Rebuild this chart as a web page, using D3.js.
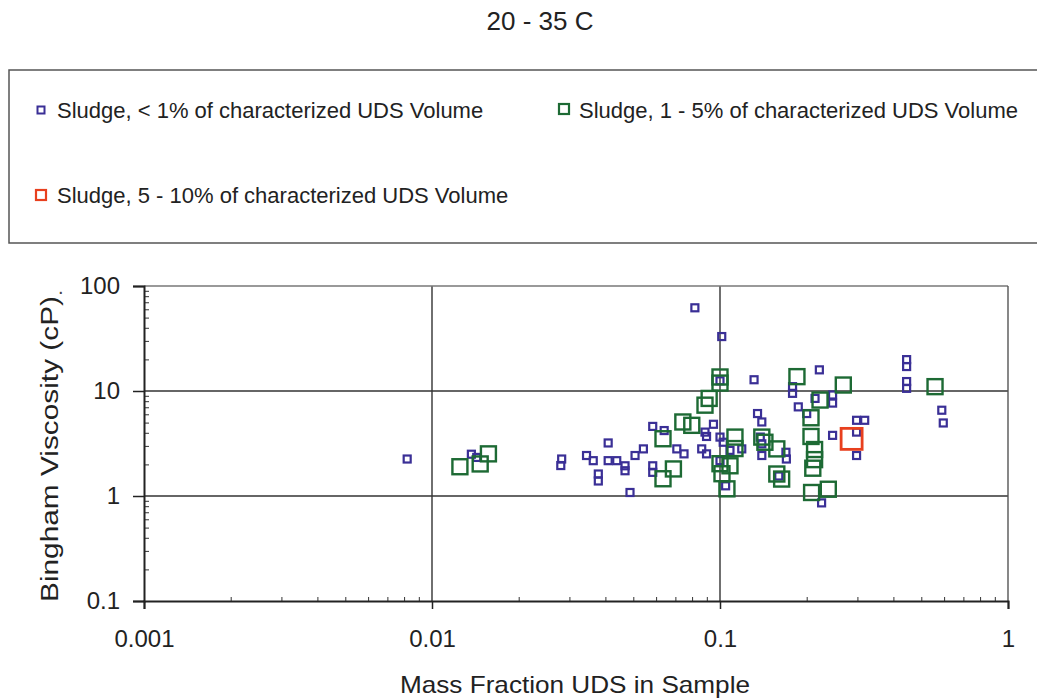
<!DOCTYPE html>
<html>
<head>
<meta charset="utf-8">
<script src="https://cdn.jsdelivr.net/npm/d3@7"></script>
<style>
  html, body { margin: 0; padding: 0; background: #fff; }
  svg { display: block; font-family: "Liberation Sans", Arial, sans-serif; }
</style>
</head>
<body>
<svg id="chart" width="1037" height="700"></svg>
<script>
// ---- data ----
const chartTitle = "20 - 35 C";
const xTitle = "Mass Fraction UDS in Sample";
const yTitle = "Bingham Viscosity (cP)";
const seriesNames = [
  "Sludge, < 1% of characterized UDS Volume",
  "Sludge, 1 - 5% of characterized UDS Volume",
  "Sludge, 5 - 10% of characterized UDS Volume"
];
const xTickValues = [0.001, 0.01, 0.1, 1];
const xTickLabels = ["0.001", "0.01", "0.1", "1"];
const yTickValues = [0.1, 1, 10, 100];
const yTickLabels = ["0.1", "1", "10", "100"];

// Sludge, < 1%  (mass fraction, viscosity cP)
const lowX = [0.0082,0.0137,0.0143,0.0282,0.0280,0.0344,0.0363,0.0378,0.0378,0.0409,0.0409,0.0438,0.0468,0.0468,0.0487,0.0507,0.0542,0.0584,0.0584,0.0584,0.0640,0.0708,0.0750,0.0818,0.0864,0.0898,0.0887,0.0898,0.0949,0.1014,0.1000,0.1026,0.1000,0.1046,0.1083,0.1190,0.1313,0.1350,0.1397,0.1380,0.1397,0.1397,0.1600,0.1694,0.1700,0.1786,0.1786,0.1870,0.2000,0.2138,0.2213,0.2460,0.2460,0.2460,0.2253,0.2980,0.3180,0.2980,0.2980,0.4446,0.4446,0.4446,0.4446,0.5890,0.5960,0.1000];
const lowY = [2.25,2.50,2.33,2.25,1.95,2.43,2.17,1.62,1.39,3.20,2.17,2.17,1.94,1.74,1.08,2.43,2.81,4.60,1.94,1.68,4.20,2.81,2.52,62.0,2.81,2.52,4.06,3.69,4.82,33.0,3.64,3.25,2.17,1.25,2.72,2.81,12.8,6.10,5.07,3.64,3.14,2.43,1.55,2.61,2.25,11.0,9.50,7.06,6.10,8.50,15.9,9.16,7.67,3.78,0.86,5.26,5.26,4.06,2.43,19.9,17.1,12.3,10.6,6.56,4.96,12.5];

// Sludge, 1 - 5%
const midX = [0.0125,0.0147,0.0157,0.0634,0.0689,0.0634,0.0743,0.0798,0.0887,0.0917,0.1000,0.1000,0.1000,0.1083,0.1016,0.1057,0.1127,0.1127,0.1397,0.1432,0.1575,0.1575,0.1637,0.1850,0.2225,0.2680,0.2070,0.2070,0.2130,0.2130,0.2100,0.2080,0.2377,0.5580];
const midY = [1.90,2.02,2.52,1.46,1.81,3.51,5.07,4.71,7.33,8.50,13.6,11.9,2.03,1.94,1.63,1.17,3.64,2.83,3.64,3.25,2.81,1.62,1.45,13.7,8.20,11.4,5.56,3.69,2.77,2.22,1.84,1.08,1.16,11.0];

// Sludge, 5 - 10%
const highX = [0.2864];
const highY = [3.50];

// ---- drawing ----
const svg = d3.select("#chart");
const x = d3.scaleLog().domain([0.001, 1]).range([144, 1008]);
const y = d3.scaleLog().domain([0.1, 100]).range([601, 286]);

const styles = [
  { stroke: "#3a2f96", size: 7,  sw: 2.2, legSize: 7 },
  { stroke: "#1d6a34", size: 15, sw: 2.4, legSize: 10 },
  { stroke: "#e8401e", size: 21, sw: 2.8, legSize: 10 }
];

// title
svg.append("text").attr("x", 540).attr("y", 30).attr("text-anchor", "middle")
  .attr("font-size", 25).attr("textLength", 107).attr("lengthAdjust", "spacingAndGlyphs")
  .attr("fill", "#222").text(chartTitle);

// legend box
svg.append("rect").attr("x", 9).attr("y", 70).attr("width", 1040).attr("height", 173)
  .attr("fill", "#fff").attr("stroke", "#555").attr("stroke-width", 1.5);

const legendPos = [
  { mx: 41, my: 110, tx: 57, ty: 118 },
  { mx: 564, my: 109, tx: 579, ty: 118 },
  { mx: 41, my: 195, tx: 57, ty: 203 }
];
seriesNames.forEach((name, i) => {
  const p = legendPos[i], s = styles[i];
  svg.append("rect").attr("x", p.mx - s.legSize / 2).attr("y", p.my - s.legSize / 2)
    .attr("width", s.legSize).attr("height", s.legSize)
    .attr("fill", "#fff").attr("stroke", s.stroke).attr("stroke-width", i === 0 ? 2 : 2.2);
  svg.append("text").attr("x", p.tx).attr("y", p.ty).attr("font-size", 22)
    .attr("fill", "#222").text(name);
});

// gridlines
const g = svg.append("g");
[0.01, 0.1].forEach(v => {
  g.append("line").attr("x1", x(v)).attr("x2", x(v)).attr("y1", y(100)).attr("y2", y(0.1))
    .attr("stroke", "#333").attr("stroke-width", 1.4);
});
[1, 10].forEach(v => {
  g.append("line").attr("x1", x(0.001)).attr("x2", x(1)).attr("y1", y(v)).attr("y2", y(v))
    .attr("stroke", "#333").attr("stroke-width", 1.4);
});
// top and right frame
g.append("line").attr("x1", x(0.001)).attr("x2", x(1)).attr("y1", y(100)).attr("y2", y(100))
  .attr("stroke", "#777").attr("stroke-width", 1.6);
g.append("line").attr("x1", x(1)).attr("x2", x(1)).attr("y1", y(100)).attr("y2", y(0.1))
  .attr("stroke", "#555").attr("stroke-width", 1.4);

// minor ticks
const minorVals = (lo, hi) => {
  const out = [];
  for (let e = Math.log10(lo); e < Math.log10(hi); e++) {
    for (let k = 2; k <= 9; k++) out.push(k * Math.pow(10, e));
  }
  return out;
};
const xMinor = d3.axisBottom(x).tickValues(minorVals(0.001, 1)).tickSize(-4).tickFormat("");
const yMinor = d3.axisLeft(y).tickValues(minorVals(0.1, 100)).tickSize(-5).tickFormat("");
svg.append("g").attr("transform", `translate(0,${y(0.1)})`).call(xMinor)
  .call(s => s.select(".domain").remove())
  .selectAll("line").attr("stroke", "#333");
svg.append("g").attr("transform", `translate(${x(0.001)},0)`).call(yMinor)
  .call(s => s.select(".domain").remove())
  .selectAll("line").attr("stroke", "#333");

// major axes
const xAxis = d3.axisBottom(x).tickValues(xTickValues).tickSize(8).tickPadding(21)
  .tickFormat((d, i) => xTickLabels[i]);
const yAxis = d3.axisLeft(y).tickValues(yTickValues).tickSize(11).tickPadding(13)
  .tickFormat((d, i) => yTickLabels[i]);
const xa = svg.append("g").attr("transform", `translate(0,${y(0.1)})`).call(xAxis);
const ya = svg.append("g").attr("transform", `translate(${x(0.001)},0)`).call(yAxis);
[xa, ya].forEach(a => {
  a.select(".domain").attr("stroke", "#222").attr("stroke-width", 2);
  a.selectAll(".tick line").attr("stroke", "#222").attr("stroke-width", 1.5);
  a.selectAll(".tick text").attr("font-size", 24).attr("fill", "#222")
    .attr("font-family", "'Liberation Sans', Arial, sans-serif");
});

// stray dot near the 100 label (as in the reference)
svg.append("text").attr("x", 58).attr("y", 294).attr("font-size", 20).attr("fill", "#444").text(".");

// axis titles
svg.append("text").attr("x", 575).attr("y", 693).attr("text-anchor", "middle")
  .attr("font-size", 24).attr("textLength", 350).attr("lengthAdjust", "spacingAndGlyphs")
  .attr("fill", "#222").text(xTitle);
svg.append("text").attr("transform", "translate(58,449) rotate(-90)").attr("text-anchor", "middle")
  .attr("font-size", 23).attr("textLength", 306).attr("lengthAdjust", "spacingAndGlyphs")
  .attr("fill", "#222").text(yTitle);

// markers
const seriesData = [
  d3.zip(lowX, lowY),
  d3.zip(midX, midY),
  d3.zip(highX, highY)
];
const drawOrder = [0, 1, 2];
drawOrder.forEach(i => {
  const s = styles[i];
  svg.append("g").selectAll("rect").data(seriesData[i]).join("rect")
    .attr("x", d => x(d[0]) - s.size / 2)
    .attr("y", d => y(d[1]) - s.size / 2)
    .attr("width", s.size).attr("height", s.size)
    .attr("fill", "none").attr("stroke", s.stroke).attr("stroke-width", s.sw);
});
</script>
</body>
</html>
